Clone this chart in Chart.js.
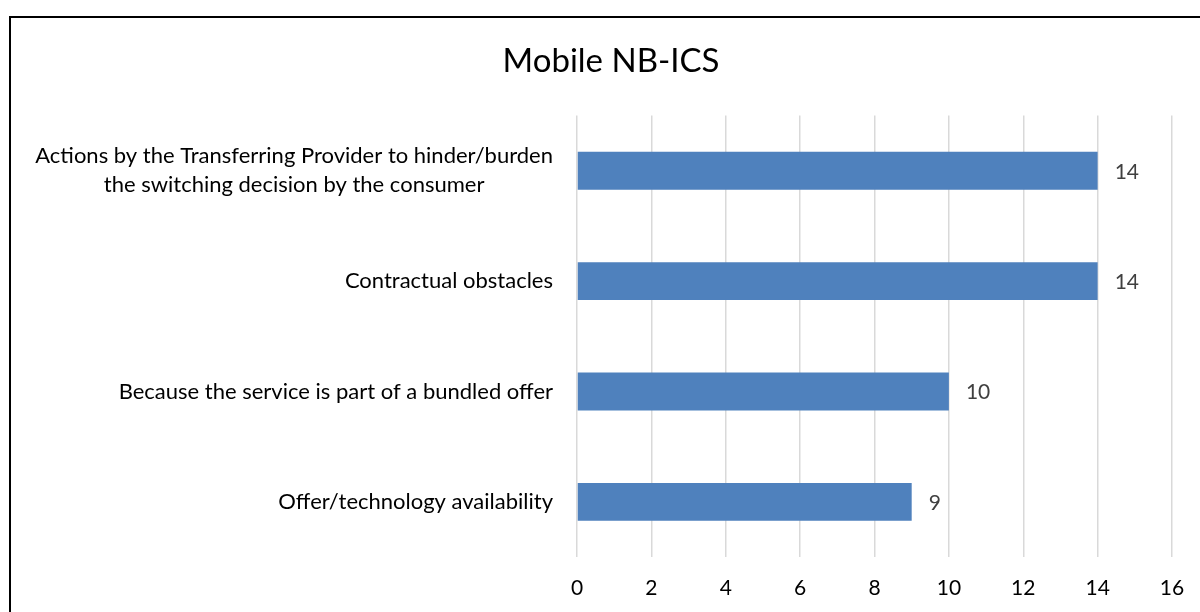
<!DOCTYPE html>
<html>
<head>
<meta charset="utf-8">
<script src="https://cdn.jsdelivr.net/npm/chart.js@4"></script>
<style>
  html, body { margin: 0; padding: 0; background: #fff; overflow: hidden; }
  #frame {
    position: absolute; left: 9px; top: 16px;
    width: 1300px; height: 700px;
    border: 2px solid #000;
  }
  #wrap { position: absolute; left: 0; top: 0; width: 1200px; height: 612px; }
</style>
</head>
<body>
<div id="frame"></div>
<div id="wrap"><canvas id="chart" width="1200" height="612"></canvas></div>
<script>
const chartTitle = "Mobile NB-ICS";
const categories = [
  ["Actions by the Transferring Provider to hinder/burden", "the switching decision by the consumer"],
  ["Contractual obstacles"],
  ["Because the service is part of a bundled offer"],
  ["Offer/technology availability"]
];
const counts = [14, 14, 10, 9];
const xTicks = [0, 2, 4, 6, 8, 10, 12, 14, 16];

const FONT = "Lato";

// value labels next to each bar
const valueLabels = {
  id: "valueLabels",
  afterDatasetsDraw(chart) {
    const ctx = chart.ctx;
    const meta = chart.getDatasetMeta(0);
    ctx.save();
    ctx.font = "21px " + FONT;
    ctx.fillStyle = "#404040";
    ctx.textAlign = "left";
    ctx.textBaseline = "middle";
    meta.data.forEach((bar, i) => {
      ctx.fillText(String(counts[i]), bar.x + 17, bar.y + 1);
    });
    ctx.restore();
  }
};

// category labels, lines centred on each other, block right-aligned to the axis
const categoryLabels = {
  id: "categoryLabels",
  afterDraw(chart) {
    const ctx = chart.ctx;
    const yScale = chart.scales.y;
    const right = chart.chartArea.left - 24;
    ctx.save();
    ctx.font = "22px " + FONT;
    ctx.fillStyle = "#000";
    ctx.textAlign = "center";
    ctx.textBaseline = "middle";
    const lh = 29;
    categories.forEach((lines, i) => {
      const y = yScale.getPixelForValue(i);
      const w = Math.max(...lines.map(l => ctx.measureText(l).width));
      const cx = right - w / 2;
      lines.forEach((l, j) => {
        ctx.fillText(l, cx, y + (j - (lines.length - 1) / 2) * lh);
      });
    });
    ctx.restore();
  }
};

new Chart(document.getElementById("chart"), {
  type: "bar",
  data: {
    labels: categories.map(c => c.join(" ")),
    datasets: [{
      data: counts,
      backgroundColor: "#4F81BD",
      categoryPercentage: 0.7,
      barPercentage: 0.49
    }]
  },
  options: {
    indexAxis: "y",
    responsive: false,
    animation: false,
    layout: { padding: { left: 50, right: 28, top: 0, bottom: 0 } },
    plugins: {
      legend: { display: false },
      tooltip: { enabled: false },
      title: {
        display: true,
        text: chartTitle,
        color: "#000",
        font: { family: FONT, size: 33, weight: "normal" },
        padding: { top: 42, bottom: 34 }
      }
    },
    scales: {
      x: {
        min: 0,
        max: 16,
        afterBuildTicks: s => { s.ticks = xTicks.map(v => ({ value: v })); },
        grid: { color: "#d9d9d9", lineWidth: 1.5, drawTicks: false },
        border: { display: false },
        ticks: { color: "#000", padding: 19, font: { family: FONT, size: 21 } },
        afterFit: s => {
          s.height = 612 - 557;
          s.paddingLeft = 0;
          s.paddingRight = 0;
        }
      },
      y: {
        grid: { display: false },
        border: { display: false },
        ticks: { display: false },
        afterFit: s => { s.width = 577 - 50; }
      }
    }
  },
  plugins: [valueLabels, categoryLabels]
});
</script>
</body>
</html>
